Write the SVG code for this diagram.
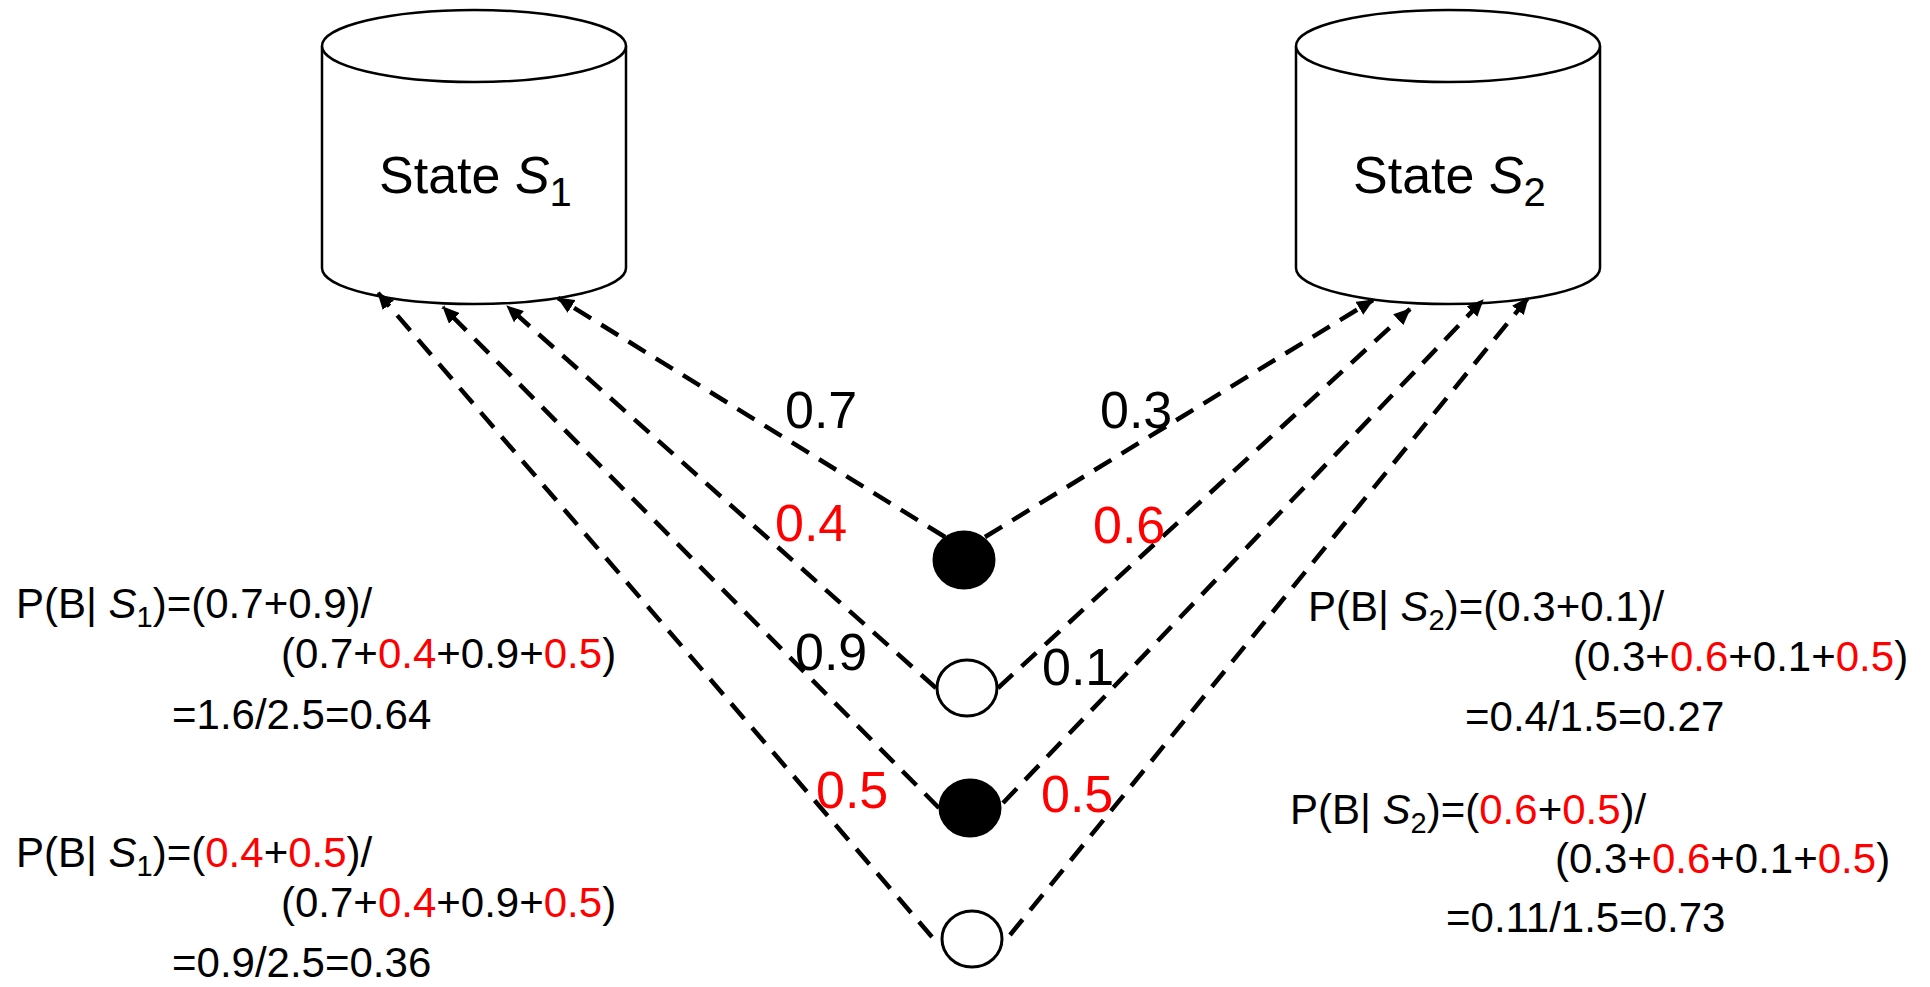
<svg xmlns="http://www.w3.org/2000/svg" width="1930" height="987" viewBox="0 0 1930 987">
<style>
text{font-family:"Liberation Sans",Arial,sans-serif;fill:#000}
.cyl{fill:#fff;stroke:#000;stroke-width:2.5}
.lbl{font-size:52px}
.f{font-size:42px}
.r{fill:#ff0000}
.i{font-style:italic}
.con{stroke:#000;stroke-width:4.5;stroke-dasharray:20 12;fill:none;marker-end:url(#ah)}
.dot{fill:#000;stroke:#000;stroke-width:3}
.opn{fill:#fff;stroke:#000;stroke-width:3}
</style>
<defs>
<marker id="ah" markerUnits="userSpaceOnUse" markerWidth="17" markerHeight="15" viewBox="0 0 17 15" refX="16" refY="7.5" orient="auto">
<path d="M0,0 L17,7.5 L0,15 z" fill="#000"/>
</marker>
</defs>
<rect width="1930" height="987" fill="#fff"/>
<g id="stateS1">
<path class="cyl" d="M322,46 L322,268 A152,36 0 0 0 626,268 L626,46"/>
<ellipse class="cyl" cx="474" cy="46" rx="152" ry="36"/>
<text x="379" y="193" class="lbl">State <tspan class="i">S</tspan><tspan font-size="40" dy="13">1</tspan></text>
</g>
<g id="stateS2">
<path class="cyl" d="M1296,46 L1296,268 A152,36 0 0 0 1600,268 L1600,46"/>
<ellipse class="cyl" cx="1448" cy="46" rx="152" ry="36"/>
<text x="1353" y="193" class="lbl">State <tspan class="i">S</tspan><tspan font-size="40" dy="13">2</tspan></text>
</g>
<g id="connectors">
<line class="con" x1="945" y1="537" x2="558" y2="298"/>
<line class="con" x1="936" y1="688" x2="507" y2="306"/>
<line class="con" x1="939" y1="808" x2="443" y2="307"/>
<line class="con" x1="932" y1="937" x2="378" y2="293"/>
<line class="con" x1="985" y1="537" x2="1373" y2="300"/>
<line class="con" x1="998" y1="688" x2="1410" y2="309"/>
<line class="con" x1="1003" y1="803" x2="1483" y2="300"/>
<line class="con" x1="1010" y1="935" x2="1528" y2="298"/>
</g>
<g id="labels">
<text x="785" y="428" class="lbl">0.7</text>
<text x="1100" y="428" class="lbl">0.3</text>
<text x="775" y="541" class="lbl r">0.4</text>
<text x="1093" y="543" class="lbl r">0.6</text>
<text x="795" y="670" class="lbl">0.9</text>
<text x="1042" y="685" class="lbl">0.1</text>
<text x="816" y="808" class="lbl r">0.5</text>
<text x="1041" y="812" class="lbl r">0.5</text>
</g>
<g id="obs1"><ellipse class="dot" cx="964" cy="560" rx="30" ry="28"/></g>
<g id="obs2"><ellipse class="opn" cx="967" cy="688" rx="30" ry="28"/></g>
<g id="obs3"><ellipse class="dot" cx="970" cy="808" rx="30" ry="28"/></g>
<g id="obs4"><ellipse class="opn" cx="972" cy="939" rx="30" ry="28"/></g>
<g id="formula1">
<text x="16" y="618" class="f">P(B| <tspan class="i">S</tspan><tspan font-size="29" dy="9">1</tspan><tspan dy="-9">)=(0.7+0.9)/</tspan></text>
<text x="281" y="668" class="f">(0.7+<tspan class="r">0.4</tspan>+0.9+<tspan class="r">0.5</tspan>)</text>
<text x="172" y="729" class="f">=1.6/2.5=0.64</text>
</g>
<g id="formula2">
<text x="16" y="867" class="f">P(B| <tspan class="i">S</tspan><tspan font-size="29" dy="9">1</tspan><tspan dy="-9">)=(</tspan><tspan class="r">0.4</tspan>+<tspan class="r">0.5</tspan>)/</text>
<text x="281" y="917" class="f">(0.7+<tspan class="r">0.4</tspan>+0.9+<tspan class="r">0.5</tspan>)</text>
<text x="172" y="977" class="f">=0.9/2.5=0.36</text>
</g>
<g id="formula3">
<text x="1308" y="621" class="f">P(B| <tspan class="i">S</tspan><tspan font-size="29" dy="9">2</tspan><tspan dy="-9">)=(0.3+0.1)/</tspan></text>
<text x="1573" y="671" class="f">(0.3+<tspan class="r">0.6</tspan>+0.1+<tspan class="r">0.5</tspan>)</text>
<text x="1465" y="731" class="f">=0.4/1.5=0.27</text>
</g>
<g id="formula4">
<text x="1290" y="824" class="f">P(B| <tspan class="i">S</tspan><tspan font-size="29" dy="9">2</tspan><tspan dy="-9">)=(</tspan><tspan class="r">0.6</tspan>+<tspan class="r">0.5</tspan>)/</text>
<text x="1555" y="873" class="f">(0.3+<tspan class="r">0.6</tspan>+0.1+<tspan class="r">0.5</tspan>)</text>
<text x="1446" y="932" class="f">=0.11/1.5=0.73</text>
</g>
</svg>
